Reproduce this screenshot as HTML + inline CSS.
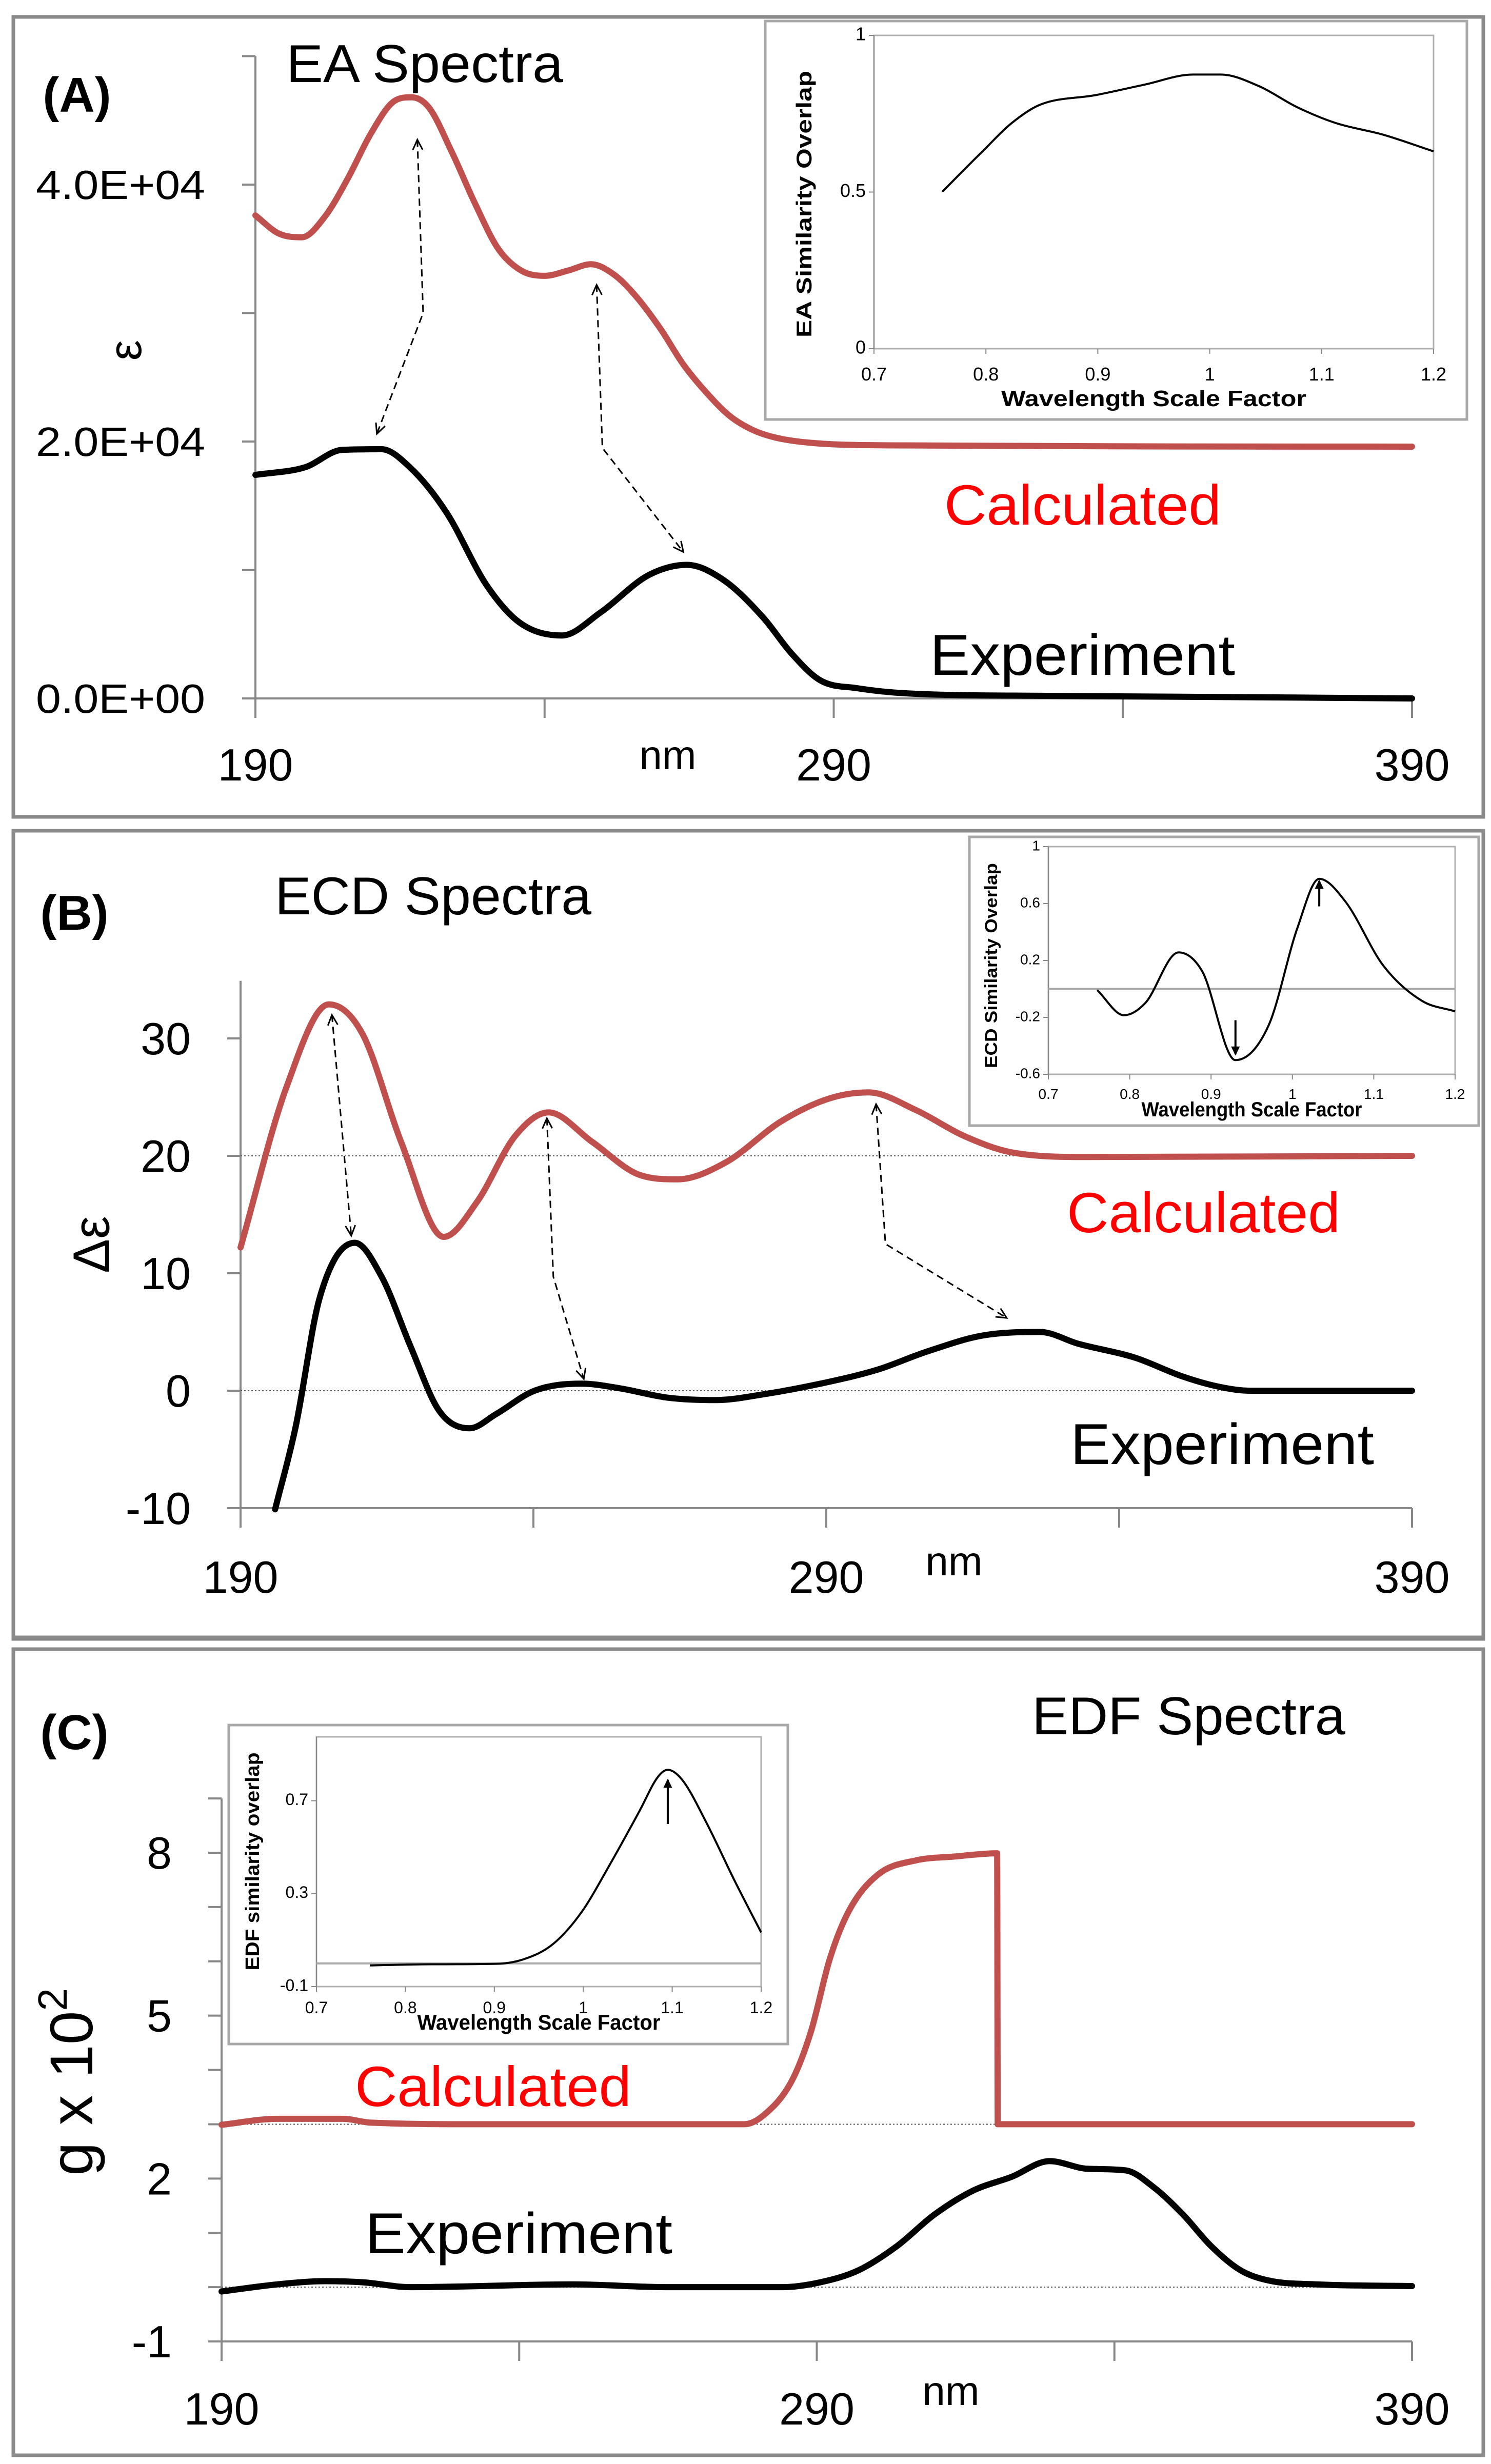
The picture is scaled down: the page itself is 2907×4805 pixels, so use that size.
<!DOCTYPE html>
<html><head><meta charset="utf-8"><title>EA / ECD / EDF Spectra</title>
<style>
html,body{margin:0;padding:0;background:#fff;}
svg{display:block;}
text{font-family:"Liberation Sans",sans-serif;}
</style></head>
<body>
<svg id="fig" xmlns="http://www.w3.org/2000/svg" width="2907" height="4805" viewBox="0 0 2907 4805">
<rect x="0" y="0" width="2907" height="4805" fill="#fff"/>
</svg>
<script>
// ---------- Panel A: EA spectra ----------
const eaCalcNm  = [190,194,198,202,206,210,214,217,220,224,228,232,236,240,244,248,252,256,260,264,268,272,276,280,286,300,390];
const eaCalcVal = [37600,36200,35900,37500,40500,44000,46500,46800,46000,42500,38500,35000,33300,32900,33300,33800,33000,31200,28800,26000,23800,22000,20900,20300,19900,19700,19600];
const eaExpNm   = [190,198.6,205,211.8,216.7,223,230,235.7,243,249.7,258,264.6,271,277.8,282.7,287.7,294,302.5,327,360,390];
const eaExpVal  = [17400,18000,19350,19400,18000,14500,8800,5900,4900,6700,9600,10400,9200,6300,3500,1400,800,400,200,100,0];
const eaYTicks  = [0,20000,40000];
const eaYTickLabels = ["0.0E+00","2.0E+04","4.0E+04"];
const eaInsetX  = [0.761,0.797,0.823,0.848,0.899,0.942,0.985,1.01,1.044,1.078,1.112,1.155,1.2];
const eaInsetY  = [0.501,0.63,0.72,0.778,0.81,0.843,0.875,0.875,0.838,0.771,0.721,0.683,0.63];
const eaInsetYTicks = [0,0.5,1];
// ---------- Panel B: ECD spectra ----------
const ecdCalcNm  = [190,197.8,205.1,210.8,217.4,224.7,230.4,236.9,242.6,250,258,264.6,272.7,282.5,290.6,297.2,305.3,313.5,321.6,334.6,390];
const ecdCalcVal = [12.2,25.8,32.9,30.4,21.2,13.1,16.1,21.7,23.7,21.2,18.4,18.0,19.4,23.0,24.9,25.4,23.9,21.7,20.3,19.9,20];
const ecdExpNm   = [195.9,199.4,203.5,209.5,214.1,219,223.9,229.1,233.6,240.2,248.3,254.8,263,271.1,279.3,289,298.8,307,316.7,326.5,333,342.8,350.9,357.4,362.3,390];
const ecdExpVal  = [-10.1,-3.1,7.9,12.6,9.7,3.8,-1.7,-3.2,-2.0,0,0.6,0.2,-0.6,-0.8,-0.3,0.6,1.8,3.3,4.7,5.0,4.0,2.8,1.2,0.3,0,0];
const ecdYTicks  = [-10,0,10,20,30];
const ecdInsetX  = [0.76,0.793,0.819,0.86,0.889,0.93,0.971,1.006,1.033,1.065,1.112,1.159,1.2];
const ecdInsetY  = [-0.008,-0.185,-0.10,0.257,0.125,-0.50,-0.253,0.426,0.774,0.615,0.162,-0.083,-0.158];
const ecdInsetYTicks = [-0.6,-0.2,0.2,0.6,1];
// ---------- Panel C: EDF spectra ----------
const edfCalcNm  = [190,199.3,210.5,215,233,277.8,281,285.8,289,292.2,295.4,300.3,306.7,313.1,320.3,320.4,390];
const edfCalcVal = [2.99,3.1,3.1,3.03,3.0,3.0,3.16,3.8,4.7,6.05,6.93,7.6,7.86,7.93,7.99,3.0,3.0];
const edfExpNm   = [190,199.3,207.3,213.7,221.7,249,265,284.2,290.6,297,303.4,309.8,316.3,322.7,329.1,335.5,341.9,346.7,351.5,356.3,361.2,366,374,390];
const edfExpVal  = [-0.08,0.05,0.11,0.09,0,0.05,0,0,0.09,0.31,0.75,1.34,1.78,2.03,2.32,2.18,2.15,1.83,1.34,0.75,0.31,0.12,0.05,0.02];
const edfYTicks  = [-1,2,5,8];
const edfInsetX  = [0.76,0.827,0.902,0.934,0.966,0.998,1.03,1.063,1.084,1.095,1.111,1.138,1.17,1.2];
const edfInsetY  = [-0.009,-0.004,-0.002,0.019,0.083,0.22,0.426,0.654,0.803,0.833,0.791,0.609,0.357,0.133];
const edfInsetYTicks = [-0.1,0.3,0.7];
const xTicksNm = [190,290,390];
const insetXTicks = [0.7,0.8,0.9,1,1.1,1.2];

const NS="http://www.w3.org/2000/svg";
const svg=document.getElementById('fig');
function el(tag, attrs, parent){
  const e=document.createElementNS(NS,tag);
  for(const k in attrs) e.setAttribute(k,attrs[k]);
  (parent||svg).appendChild(e);
  return e;
}
function txt(str, x, y, size, opts, parent){
  opts=opts||{};
  const t=el('text',{x:x,y:y,'font-size':size,fill:opts.fill||'#000','text-anchor':opts.anchor||'start'},parent);
  if(opts.weight) t.setAttribute('font-weight',opts.weight);
  if(opts.len){t.setAttribute('textLength',opts.len);t.setAttribute('lengthAdjust','spacingAndGlyphs');}
  if(opts.rot) t.setAttribute('transform','rotate('+opts.rot+' '+x+' '+y+')');
  if(opts.base) t.setAttribute('dominant-baseline',opts.base);
  t.textContent=str;
  return t;
}
function lin(d0,d1,p0,p1){return v=>p0+(v-d0)*(p1-p0)/(d1-d0);}
// monotone cubic (Fritsch-Carlson) smooth path in pixel space
function pathD(xs,ys,sx,sy){
  const X=xs.map(sx), Y=ys.map(sy), n=X.length;
  if(n<3) return X.map((v,i)=>(i?'L':'M')+v.toFixed(1)+' '+Y[i].toFixed(1)).join(' ');
  const d=[], m=[];
  for(let i=0;i<n-1;i++) d.push((Y[i+1]-Y[i])/(X[i+1]-X[i]));
  m[0]=d[0]; m[n-1]=d[n-2];
  for(let i=1;i<n-1;i++){ m[i]=(d[i-1]*d[i]<=0)?0:(d[i-1]+d[i])/2; }
  for(let i=0;i<n-1;i++){
    if(d[i]===0){m[i]=0;m[i+1]=0;continue;}
    const a=m[i]/d[i], b=m[i+1]/d[i], s=a*a+b*b;
    if(s>9){const t=3/Math.sqrt(s); m[i]=t*a*d[i]; m[i+1]=t*b*d[i];}
  }
  let p='M'+X[0].toFixed(1)+' '+Y[0].toFixed(1);
  for(let i=0;i<n-1;i++){
    const h=(X[i+1]-X[i])/3;
    p+=' C'+(X[i]+h).toFixed(1)+' '+(Y[i]+m[i]*h).toFixed(1)+' '+(X[i+1]-h).toFixed(1)+' '+(Y[i+1]-m[i+1]*h).toFixed(1)+' '+X[i+1].toFixed(1)+' '+Y[i+1].toFixed(1);
  }
  return p;
}
function arrowHead(x,y,fx,fy,g,size,filled){
  const a=Math.atan2(y-fy,x-fx), s=size||22;
  const p1=[x-s*Math.cos(a-0.45),y-s*Math.sin(a-0.45)], p2=[x-s*Math.cos(a+0.45),y-s*Math.sin(a+0.45)];
  if(filled) el('path',{d:`M${p1} L${x} ${y} L${p2} Z`,fill:'#000',stroke:'#000','stroke-width':2},g);
  else el('path',{d:`M${p1} L${x} ${y} L${p2}`,fill:'none',stroke:'#000','stroke-width':3},g);
}
function dashedArrow(pts,sx,sy,name){
  const g=el('g',{});
  
  
  const P=pts.map(p=>[sx(p[0]),sy(p[1])]);
  el('path',{d:P.map((p,i)=>(i?'L':'M')+p[0]+' '+p[1]).join(' '),fill:'none',stroke:'#000','stroke-width':3,'stroke-dasharray':'14 9'},g);
  arrowHead(P[0][0],P[0][1],P[1][0],P[1][1],g);
  const n=P.length;
  arrowHead(P[n-1][0],P[n-1][1],P[n-2][0],P[n-2][1],g);
}
function panelBox(y0,y1,name){
  const r=el('rect',{x:26,y:y0,width:2866,height:y1-y0,fill:'none',stroke:'#8a8a8a','stroke-width':7});
  
  
}
function mainAxes(sx,sy,xMin,xMax,yMin,yTop,yTickVals,xTickStep,g){
  const x0=sx(xMin), yb=sy(yMin);
  el('line',{x1:x0,y1:sy(yTop),x2:x0,y2:yb,stroke:'#888','stroke-width':4},g);
  el('line',{x1:x0,y1:yb,x2:sx(xMax),y2:yb,stroke:'#888','stroke-width':4},g);
  yTickVals.forEach(v=>el('line',{x1:x0-26,y1:sy(v),x2:x0,y2:sy(v),stroke:'#888','stroke-width':4},g));
  for(let v=xMin;v<=xMax;v+=xTickStep) el('line',{x1:sx(v),y1:yb,x2:sx(v),y2:yb+38,stroke:'#888','stroke-width':4},g);
}
function inset(box,plot,xs,ys,yTicks,yDomain,title,name,extra){
  const g=el('g',{});
  
  
  el('rect',{x:box[0],y:box[1],width:box[2]-box[0],height:box[3]-box[1],fill:'#fff',stroke:'#a8a8a8','stroke-width':5},g);
  const sx=lin(0.7,1.2,plot[0],plot[2]), sy=lin(yDomain[0],yDomain[1],plot[3],plot[1]);
  el('rect',{x:plot[0],y:plot[1],width:plot[2]-plot[0],height:plot[3]-plot[1],fill:'none',stroke:'#b0b0b0','stroke-width':3},g);
  el('line',{x1:plot[0],y1:plot[1],x2:plot[0],y2:plot[3],stroke:'#888','stroke-width':2},g);
  if(extra.zero) el('line',{x1:plot[0],y1:sy(0),x2:plot[2],y2:sy(0),stroke:'#aaa','stroke-width':4},g);
  insetXTicks.forEach(v=>{
    el('line',{x1:sx(v),y1:plot[3],x2:sx(v),y2:plot[3]+10,stroke:'#888','stroke-width':2},g);
    txt(String(v),sx(v),plot[3]+extra.xlab,extra.fs,{anchor:'middle'},g);
  });
  yTicks.forEach(v=>{
    el('line',{x1:plot[0]-10,y1:sy(v),x2:plot[0],y2:sy(v),stroke:'#888','stroke-width':2},g);
    txt(String(v),plot[0]-16,sy(v),extra.fs,{anchor:'end',base:'middle'},g);
  });
  const c=el('path',{d:pathD(xs,ys,sx,sy),fill:'none',stroke:'#000','stroke-width':4,'stroke-linejoin':'round'},g);
  
  
  txt('Wavelength Scale Factor',(plot[0]+plot[2])/2,plot[3]+extra.tlab,extra.tfs,{anchor:'middle',weight:'bold',len:extra.tlen},g);
  txt(title,extra.ytx,extra.yty,extra.yfs,{anchor:'middle',weight:'bold',rot:-90,len:extra.ylen},g);
  (extra.arrows||[]).forEach(a=>{
    el('line',{x1:sx(a[0]),y1:sy(a[1]),x2:sx(a[0]),y2:sy(a[2]),stroke:'#000','stroke-width':4},g);
    arrowHead(sx(a[0]),sy(a[2]),sx(a[0]),sy(a[1]),g,16,true);
  });
}
function series(xs,ys,sx,sy,color,name){
  const p=el('path',{d:pathD(xs,ys,sx,sy),fill:'none',stroke:color,'stroke-width':12,'stroke-linejoin':'round','stroke-linecap':'round'});
  
  
}
const RED='#C0504D';

// ===== Panel A =====
panelBox(33,1593,'panel-a-frame');
{
  const sx=lin(190,390,498,2753), sy=lin(0,40000,1362,360);
  const g=el('g',{});
  
  
  mainAxes(sx,sy,190,390,0,50000,[0,10000,20000,30000,40000,50000],50,g);
  eaYTicks.forEach((v,i)=>txt(eaYTickLabels[i],400,sy(v)+28,80,{anchor:'end',len:330},g));
  xTicksNm.forEach(v=>txt(String(v),sx(v),1522,88,{anchor:'middle'},g));
  txt('nm',1302,1500,80,{anchor:'middle'},g);
  txt('ε',251,683,90,{anchor:'middle',rot:-90,base:'middle'},g);
  txt('(A)',150,218,96,{anchor:'middle',weight:'bold'},g);
  txt('EA Spectra',558,160,104,{len:540},g);
  series(eaCalcNm,eaCalcVal,sx,sy,RED,'ea-calculated-line');
  series(eaExpNm,eaExpVal,sx,sy,'#000','ea-experiment-line');
  txt('Calculated',1841,1023,110,{fill:'#FF0000',len:540},g);
  txt('Experiment',1813,1316,112,{len:595},g);
  dashedArrow([[218,43500],[219,30000],[211,20600]],sx,sy,'ea-arrow-1');
  dashedArrow([[249,32200],[250,19500],[264,11400]],sx,sy,'ea-arrow-2');
  inset([1492,41,2860,818],[1704,69,2795,680],eaInsetX,eaInsetY,eaInsetYTicks,[0,1],'EA Similarity Overlap','ea-inset',
    {fs:36,xlab:62,tlab:112,tfs:44,tlen:595,ytx:1582,yty:398,yfs:42,ylen:520});
}

// ===== Panel B =====
panelBox(1620,3196,'panel-b-frame');
{
  const sx=lin(190,390,469,2753), sy=lin(0,10,2712,2483);
  const g=el('g',{});
  
  
  mainAxes(sx,sy,190,390,-10,34.9,ecdYTicks,50,g);
  el('line',{x1:sx(190),y1:sy(20),x2:sx(390),y2:sy(20),stroke:'#555','stroke-width':2,'stroke-dasharray':'3 4'},g);
  el('line',{x1:sx(190),y1:sy(0),x2:sx(390),y2:sy(0),stroke:'#555','stroke-width':2,'stroke-dasharray':'3 4'},g);
  ecdYTicks.forEach(v=>txt(String(v),372,sy(v)+31,88,{anchor:'end'},g));
  xTicksNm.forEach(v=>txt(String(v),sx(v),3106,88,{anchor:'middle'},g));
  txt('nm',1860,3072,80,{anchor:'middle'},g);
  txt('Δε',186,2427,100,{anchor:'middle',rot:-90,base:'middle'},g);
  txt('(B)',145,1813,96,{anchor:'middle',weight:'bold'},g);
  txt('ECD Spectra',536,1783,104,{len:617},g);
  series(ecdCalcNm,ecdCalcVal,sx,sy,RED,'ecd-calculated-line');
  series(ecdExpNm,ecdExpVal,sx,sy,'#000','ecd-experiment-line');
  txt('Calculated',2080,2403,110,{fill:'#FF0000',len:533},g);
  txt('Experiment',2087,2855,112,{len:592},g);
  dashedArrow([[205.6,32],[208.9,13.2]],sx,sy,'ecd-arrow-1');
  dashedArrow([[242.3,23.2],[243.4,9.7],[248.6,1.0]],sx,sy,'ecd-arrow-2');
  dashedArrow([[298.5,24.4],[300.1,12.5],[320.8,6.2]],sx,sy,'ecd-arrow-3');
  inset([1890,1632,2883,2195],[2044,1651,2837,2095],ecdInsetX,ecdInsetY,ecdInsetYTicks,[-0.6,1],'ECD Similarity Overlap','ecd-inset',
    {zero:true,fs:28,xlab:48,tlab:82,tfs:40,tlen:430,ytx:1944,yty:1883,yfs:34,ylen:400,arrows:[[0.93,-0.22,-0.46],[1.033,0.58,0.76]]});
}

// ===== Panel C =====
el('line',{x1:26,y1:3193,x2:2892,y2:3193,stroke:'#8a8a8a','stroke-width':7});
panelBox(3216,4788,'panel-c-frame');
{
  const sx=lin(190,390,432,2753), sy=lin(-1,8,4566,3613);
  const g=el('g',{});
  
  
  mainAxes(sx,sy,190,390,-1,9,[-1,0,1,2,3,4,5,6,7,8,9],50,g);
  el('line',{x1:sx(190),y1:sy(3),x2:sx(390),y2:sy(3),stroke:'#555','stroke-width':2,'stroke-dasharray':'3 4'},g);
  el('line',{x1:sx(190),y1:sy(0),x2:sx(390),y2:sy(0),stroke:'#555','stroke-width':2,'stroke-dasharray':'3 4'},g);
  edfYTicks.forEach(v=>txt(String(v),335,sy(v)+31,88,{anchor:'end'},g));
  xTicksNm.forEach(v=>txt(String(v),sx(v),4728,88,{anchor:'middle'},g));
  txt('nm',1854,4690,80,{anchor:'middle'},g);
  const gt=txt('g x 10',149,4060,118,{anchor:'middle',rot:-90,base:'middle'},g);
  const sup=el('tspan',{dy:-40,'font-size':80},gt); sup.textContent='2';
  txt('(C)',145,3411,96,{anchor:'middle',weight:'bold'},g);
  txt('EDF Spectra',2012,3382,104,{len:611},g);
  series(edfCalcNm,edfCalcVal,sx,sy,RED,'edf-calculated-line');
  series(edfExpNm,edfExpVal,sx,sy,'#000','edf-experiment-line');
  txt('Calculated',692,4107,110,{fill:'#FF0000',len:539},g);
  txt('Experiment',712,4394,112,{len:599},g);
  inset([446,3364,1536,3986],[617,3387,1484,3874],edfInsetX,edfInsetY,edfInsetYTicks,[-0.1,0.975],'EDF similarity overlap','edf-inset',
    {zero:true,fs:32,xlab:52,tlab:84,tfs:42,tlen:474,ytx:505,yty:3630,yfs:38,ylen:425,arrows:[[1.095,0.6,0.79]]});
}
</script>
</body></html>
